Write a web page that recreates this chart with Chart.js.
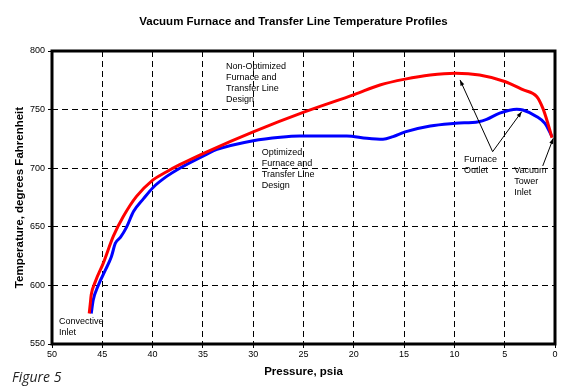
<!DOCTYPE html>
<html>
<head>
<meta charset="utf-8">
<script src="https://cdn.jsdelivr.net/npm/chart.js@4.4.1/dist/chart.umd.min.js"></script>
<style>
  html, body { margin: 0; padding: 0; background: #fff; }
  canvas { display: block; }
</style>
</head>
<body>
<canvas id="chart" width="569" height="389"></canvas>
<script>
/* ── Data (pressure psia → temperature °F) ── */
const nonOptPressure = [46.3, 46.2, 46.1, 45.7, 44.9, 43.9, 42.9, 41.6, 40.1, 38.6, 37.3, 34.6, 30.0, 24.9, 19.9, 17.4, 14.9, 12.4, 9.9, 7.5, 5.0, 3.2, 1.8, 1.2, 0.7, 0.3];
const nonOptTemp     = [576, 584, 592, 603, 619, 642, 659, 676, 689, 697, 703, 714, 731, 748, 763, 771, 776, 779.5, 781, 779.5, 774, 767, 761, 751, 738, 726];

const optPressure = [46.1, 45.9, 45.4, 44.7, 44.1, 43.7, 43.2, 42.6, 41.9, 40.9, 39.9, 38.6, 37.3, 34.6, 33.6, 30.0, 27.3, 25.4, 20.7, 18.7, 17.1, 16.1, 14.9, 12.4, 9.9, 7.6, 6.8, 5.5, 3.8, 3.2, 1.8, 1.0, 0.3];
const optTemp     = [576, 587.5, 600, 613, 624.5, 636, 641, 649.5, 663, 674, 684, 693, 700, 712, 716, 723.5, 726.5, 727.5, 727.5, 725.5, 724.7, 727, 731, 736, 738.3, 739.7, 741.7, 747, 750.3, 749.7, 744, 738.3, 727];

const xTickStep = 5;
const yTicks = [550, 600, 650, 700, 750, 800];

/* ── Callout labels and arrows (data coordinates) ── */
const noteLines = [
  ['Non-Optimized', 'Furnace and', 'Transfer Line', 'Design'],
  ['Optimized', 'Furnace and', 'Transfer Line', 'Design'],
  ['Convective', 'Inlet'],
  ['Furnace', 'Outlet'],
  ['Vacuum', 'Tower', 'Inlet'],
];
const noteP = [32.7, 29.15, 49.3, 9.05, 4.05];
const noteT = [790.6, 717.2, 573, 711.3, 701.9];

const arrowFromP = [6.2, 6.2, 1.22];
const arrowFromT = [714.1, 714.1, 701.9];
const arrowToP   = [9.44, 3.31, 0.17];
const arrowToT   = [775.3, 748.2, 725.5];

const FONT = "'Liberation Sans', Arial, sans-serif";

function toPoints(xs, ys) {
  return xs.map((x, i) => ({ x, y: ys[i] }));
}

const decorPlugin = {
  id: 'decor',
  afterDraw(chart) {
    const { ctx, chartArea: a, scales: { x, y } } = chart;
    ctx.save();

    // thick frame
    ctx.strokeStyle = '#000';
    ctx.lineWidth = 3;
    ctx.strokeRect(a.left, a.top, a.right - a.left, a.bottom - a.top);

    // titles
    ctx.fillStyle = '#000';
    ctx.textAlign = 'center';
    ctx.textBaseline = 'middle';
    ctx.font = 'bold 11.5px ' + FONT;
    ctx.fillText('Vacuum Furnace and Transfer Line Temperature Profiles', (a.left + a.right) / 2 - 10, 22);
    ctx.fillText('Pressure, psia', (a.left + a.right) / 2, 372);
    ctx.save();
    ctx.translate(20, (a.top + a.bottom) / 2);
    ctx.rotate(-Math.PI / 2);
    ctx.fillText('Temperature, degrees Fahrenheit', 0, 0);
    ctx.restore();

    // figure caption
    ctx.textAlign = 'left';
    ctx.textBaseline = 'alphabetic';
    ctx.font = "italic 14px 'Open Sans', sans-serif";
    ctx.fillStyle = '#222';
    ctx.fillText('Figure 5', 12, 382);

    // notes
    ctx.fillStyle = '#000';
    ctx.font = '9px ' + FONT;
    ctx.textBaseline = 'top';
    noteLines.forEach((lines, i) => {
      const px = x.getPixelForValue(noteP[i]);
      const py = y.getPixelForValue(noteT[i]);
      lines.forEach((t, j) => ctx.fillText(t, px, py + j * 11));
    });

    // arrows
    ctx.strokeStyle = '#000';
    ctx.lineWidth = 1;
    arrowFromP.forEach((_, i) => {
      const x1 = x.getPixelForValue(arrowFromP[i]), y1 = y.getPixelForValue(arrowFromT[i]);
      const x2 = x.getPixelForValue(arrowToP[i]),   y2 = y.getPixelForValue(arrowToT[i]);
      ctx.beginPath();
      ctx.moveTo(x1, y1);
      ctx.lineTo(x2, y2);
      ctx.stroke();
      const ang = Math.atan2(y2 - y1, x2 - x1);
      ctx.beginPath();
      ctx.moveTo(x2, y2);
      ctx.lineTo(x2 - 6 * Math.cos(ang - 0.35), y2 - 6 * Math.sin(ang - 0.35));
      ctx.lineTo(x2 - 6 * Math.cos(ang + 0.35), y2 - 6 * Math.sin(ang + 0.35));
      ctx.closePath();
      ctx.fill();
    });

    ctx.restore();
  }
};

new Chart(document.getElementById('chart'), {
  type: 'line',
  data: {
    datasets: [
      {
        label: 'Non-Optimized',
        data: toPoints(nonOptPressure, nonOptTemp),
        borderColor: '#ff0000',
        borderWidth: 3,
        pointRadius: 0,
        cubicInterpolationMode: 'monotone',
        fill: false,
      },
      {
        label: 'Optimized',
        data: toPoints(optPressure, optTemp),
        borderColor: '#0000ff',
        borderWidth: 3,
        pointRadius: 0,
        cubicInterpolationMode: 'monotone',
        fill: false,
      },
    ]
  },
  options: {
    responsive: false,
    devicePixelRatio: 1,
    animation: false,
    layout: { padding: { left: 0, right: 14, top: 51, bottom: 0 } },
    plugins: { legend: { display: false }, tooltip: { enabled: false }, title: { display: false } },
    scales: {
      x: {
        type: 'linear',
        reverse: true,
        min: 0, max: 50,
        afterFit: (s) => { s.height = 45; },
        ticks: { stepSize: xTickStep, color: '#000', padding: 1, maxRotation: 0, font: { family: FONT, size: 9 } },
        grid: { color: '#000', lineWidth: 1, tickLength: 4, tickBorderDash: [] },
        border: { display: false, dash: [6, 4] },
      },
      y: {
        min: 550, max: 800,
        afterFit: (s) => { s.width = 52; },
        afterBuildTicks: (s) => { s.ticks = yTicks.map(v => ({ value: v })); },
        ticks: { color: '#000', padding: 3, font: { family: FONT, size: 9 } },
        grid: { color: '#000', lineWidth: 1, tickLength: 4, tickBorderDash: [] },
        border: { display: false, dash: [6, 4] },
      }
    }
  },
  plugins: [decorPlugin]
});
</script>
</body>
</html>
